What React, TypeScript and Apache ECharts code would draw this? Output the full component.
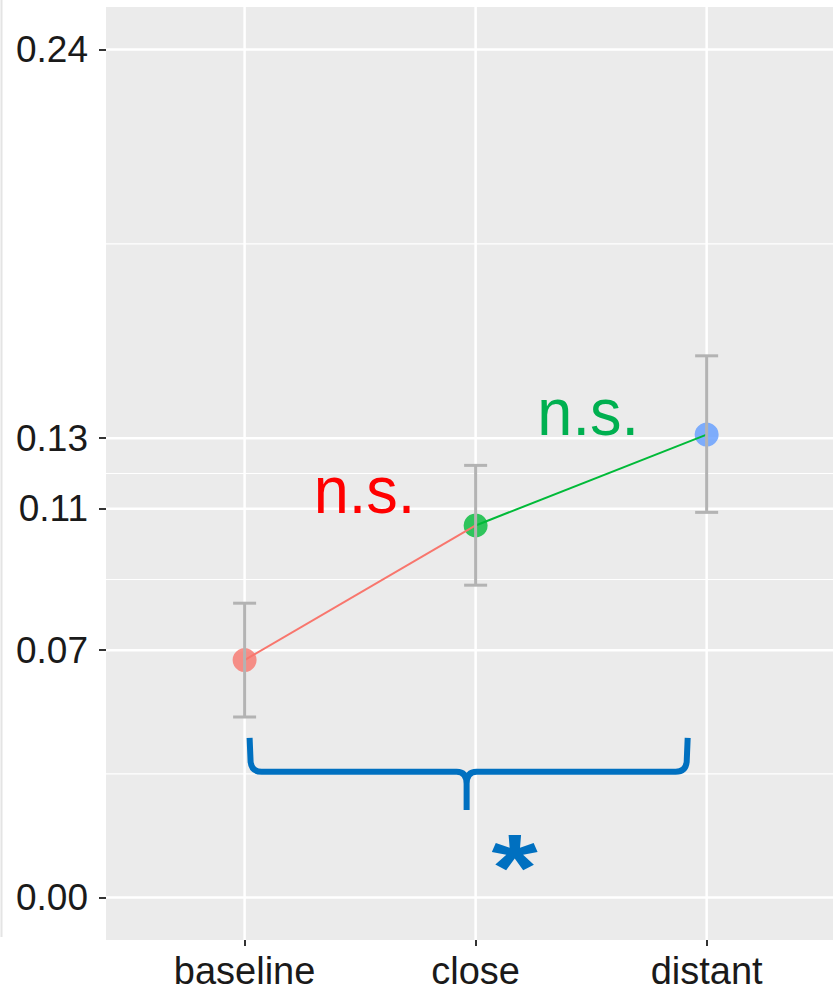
import React, { useEffect, useRef } from "react";
import * as echarts from "echarts";

const categories = ["baseline", "close", "distant"];
const means = [0.0672, 0.1053, 0.131];
const lowers = [0.0511, 0.0884, 0.109];
const uppers = [0.0833, 0.1223, 0.1533];
const pointColors = ["#F8766D", "#00BA38", "#619CFF"];
const yBreaks = [0, 0.07, 0.11, 0.13, 0.24];
const yMinor = [0.035, 0.09, 0.12, 0.185];

// annotations in data coordinates
const nsLabels = [
  { text: "n.s.", x: 0.519, y: 0.1155, color: "#FF0000" },
  { text: "n.s.", x: 1.487, y: 0.1375, color: "#00B050" },
];
// brace: [left x, right x, mid x, top y, bar y, tip y]
const brace = [0.0216, 1.918, 0.961, 0.0452, 0.0356, 0.0248];
const star = { text: "*", x: 1.169, y: 0.0085 };

const FONT = "'Liberation Sans', Arial, Helvetica, sans-serif";

export default function App() {
  const ref = useRef<HTMLDivElement>(null);
  useEffect(() => {
    if (!ref.current) return;
    const chart = echarts.init(ref.current, null, { renderer: "svg" });
    const gridLineSeries = (data: number[][], lw: number, vertical: boolean) => ({
      type: "custom",
      z: 1,
      silent: true,
      data,
      renderItem: (params: any, api: any) => {
        const cs = params.coordSys;
        if (vertical) {
          const x = api.coord([api.value(0), 0])[0];
          return {
            type: "line",
            shape: { x1: x, y1: cs.y, x2: x, y2: cs.y + cs.height },
            style: { stroke: "#FFFFFF", lineWidth: lw },
          };
        }
        const y = api.coord([0, api.value(1)])[1];
        return {
          type: "line",
          shape: { x1: cs.x, y1: y, x2: cs.x + cs.width, y2: y },
          style: { stroke: "#FFFFFF", lineWidth: lw },
        };
      },
    });

    const option: any = {
      animation: false,
      grid: {
        show: true,
        left: 106,
        top: 7,
        right: 0,
        height: 933,
        outerBoundsMode: "none",
        containLabel: false,
        backgroundColor: "#EBEBEB",
        borderWidth: 0,
      },
      xAxis: {
        type: "value",
        min: -0.6,
        max: 2.547,
        axisLine: { show: false, onZero: false },
        splitLine: { show: false },
        axisTick: {
          show: true,
          customValues: [0, 1, 2],
          length: 6,
          lineStyle: { color: "#333333", width: 2 },
        },
        axisLabel: {
          customValues: [0, 1, 2],
          formatter: (v: number) => categories[Math.round(v)] ?? "",
          fontSize: 38,
          lineHeight: 30,
          fontFamily: FONT,
          color: "#1a1a1a",
          margin: 16,
        },
      },
      yAxis: {
        type: "value",
        min: -0.012,
        max: 0.252,
        axisLine: { show: false, onZero: false },
        splitLine: { show: false },
        axisTick: {
          show: true,
          customValues: yBreaks,
          length: 7,
          lineStyle: { color: "#333333", width: 2 },
        },
        axisLabel: {
          customValues: yBreaks,
          formatter: (v: number) => v.toFixed(2),
          fontSize: 37,
          fontFamily: FONT,
          color: "#1a1a1a",
          margin: 18,
        },
      },
      graphic: [
        {
          type: "line",
          shape: { x1: 1.5, y1: 0, x2: 1.5, y2: 937 },
          style: { stroke: "#E4E4E4", lineWidth: 2 },
          silent: true,
        },
      ],
      series: [
        gridLineSeries(yMinor.map((v) => [0, v]), 1.2, false),
        gridLineSeries(yBreaks.map((v) => [0, v]), 2.5, false),
        gridLineSeries(categories.map((_, i) => [i, 0]), 2.5, true),
        {
          type: "scatter",
          z: 2,
          symbolSize: 24,
          data: means.map((m, i) => ({
            value: [i, m],
            itemStyle: { color: pointColors[i] },
          })),
        },
        {
          type: "line",
          z: 3,
          symbol: "none",
          lineStyle: { color: pointColors[0], width: 2 },
          data: [
            [0, means[0]],
            [1, means[1]],
          ],
        },
        {
          type: "line",
          z: 3,
          symbol: "none",
          lineStyle: { color: pointColors[1], width: 2 },
          data: [
            [1, means[1]],
            [2, means[2]],
          ],
        },
        {
          type: "custom",
          z: 4,
          silent: true,
          data: categories.map((_, i) => [i, lowers[i], uppers[i]]),
          renderItem: (params: any, api: any) => {
            const i = api.value(0);
            const lo = api.coord([i, api.value(1)]);
            const hi = api.coord([i, api.value(2)]);
            const hw = 11.5;
            const style = { stroke: "#B3B3B3", lineWidth: 3 };
            return {
              type: "group",
              children: [
                { type: "line", shape: { x1: lo[0], y1: lo[1], x2: hi[0], y2: hi[1] }, style },
                { type: "line", shape: { x1: lo[0] - hw, y1: lo[1], x2: lo[0] + hw, y2: lo[1] }, style },
                { type: "line", shape: { x1: hi[0] - hw, y1: hi[1], x2: hi[0] + hw, y2: hi[1] }, style },
              ],
            };
          },
        },
        {
          type: "custom",
          z: 5,
          silent: true,
          data: [brace],
          renderItem: (params: any, api: any) => {
            const xl = api.coord([api.value(0), 0])[0];
            const xr = api.coord([api.value(1), 0])[0];
            const xm = api.coord([api.value(2), 0])[0];
            const yt = api.coord([0, api.value(3)])[1];
            const yb = api.coord([0, api.value(4)])[1];
            const yp = api.coord([0, api.value(5)])[1];
            const r = 10;
            const d =
              `M ${xl} ${yt} L ${xl + 1} ${yb - r} Q ${xl + 2} ${yb} ${xl + r + 2} ${yb} ` +
              `L ${xm - r} ${yb} Q ${xm} ${yb} ${xm} ${yb + r + 2} L ${xm} ${yp} ` +
              `M ${xm} ${yb + r + 2} Q ${xm} ${yb} ${xm + r} ${yb} ` +
              `L ${xr - r - 2} ${yb} Q ${xr - 2} ${yb} ${xr - 1} ${yb - r} L ${xr} ${yt}`;
            return {
              type: "path",
              shape: { pathData: d },
              style: { stroke: "#0070C0", lineWidth: 6, fill: "none" },
            };
          },
        },
        {
          type: "custom",
          z: 6,
          silent: true,
          data: nsLabels.map((a) => [a.x, a.y]),
          renderItem: (params: any, api: any) => {
            const p = api.coord([api.value(0), api.value(1)]);
            const a = nsLabels[params.dataIndex];
            return {
              type: "text",
              x: p[0],
              y: p[1],
              scaleY: 1.06,
              style: {
                text: a.text,
                fill: a.color,
                fontSize: 63,
                fontFamily: FONT,
                align: "center",
                verticalAlign: "middle",
              },
            };
          },
        },
        {
          type: "custom",
          z: 6,
          silent: true,
          data: [[star.x, star.y]],
          renderItem: (params: any, api: any) => {
            const p = api.coord([api.value(0), api.value(1)]);
            return {
              type: "text",
              x: p[0],
              y: p[1],
              scaleX: 1.12,
              scaleY: 0.9,
              style: {
                text: star.text,
                fill: "#0070C0",
                fontSize: 106,
                fontWeight: "bold",
                fontFamily: FONT,
                align: "center",
                verticalAlign: "middle",
              },
            };
          },
        },
      ],
    };
    chart.setOption(option);
    return () => chart.dispose();
  }, []);
  return (
    <div
      ref={ref}
      style={{ position: "absolute", left: 0, top: 0, width: 833, height: 991 }}
    />
  );
}
